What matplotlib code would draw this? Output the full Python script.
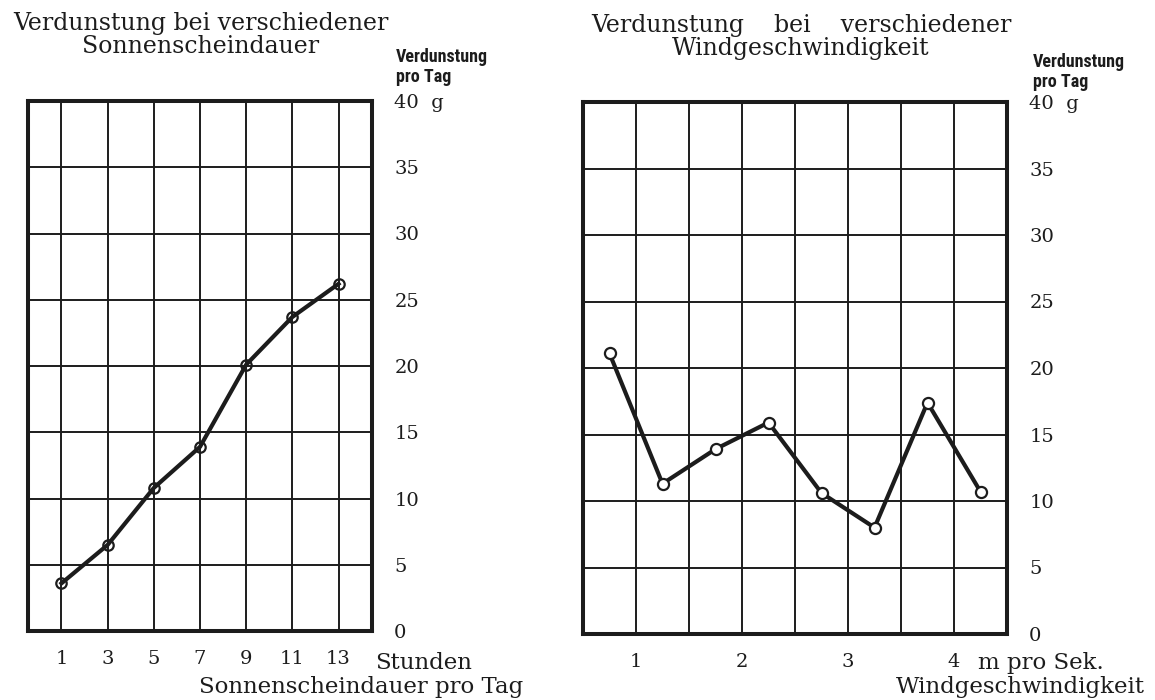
import numpy as np
import matplotlib
matplotlib.use('Agg')
import matplotlib.pyplot as plt

plt.rcParams.update({'font.family': 'DejaVu Serif', 'font.size': 14})

# Sonnenscheindauer (Stunden) vs Verdunstung (g pro Tag)
sonne_h = [1, 3, 5, 7, 9, 11, 13]
sonne_g = [3.6, 6.5, 10.8, 13.9, 20.1, 23.7, 26.2]

# Windgeschwindigkeit (m pro Sek.) vs Verdunstung (g pro Tag)
wind_ms = [0.75, 1.25, 1.75, 2.25, 2.75, 3.25, 3.75, 4.25]
wind_g = [21.1, 11.3, 13.9, 15.9, 10.6, 8.0, 17.4, 10.7]

y_ticks = [0, 5, 10, 15, 20, 25, 30, 35, 40]
y_labels = ['0', '5', '10', '15', '20', '25', '30', '35', '40  g']
wind_ticks = [1, 2, 3, 4]
wind_minor = [1.5, 2.5, 3.5]

ink = '#1c1c1c'
W, H = 1155, 700
fig = plt.figure(figsize=(W / 100, H / 100), dpi=100)

def px_axes(l, t, r, b):
    return fig.add_axes([l / W, 1 - b / H, (r - l) / W, (b - t) / H])

def style(ax):
    for s in ax.spines.values():
        s.set_linewidth(2.9)
        s.set_color(ink)
    ax.set_ylim(0, 40)
    ax.set_yticks(y_ticks)
    ax.set_yticklabels(y_labels)
    ax.yaxis.tick_right()
    ax.tick_params(axis='both', which='both', length=0, colors=ink, labelsize=14)
    ax.tick_params(axis='y', pad=16)
    ax.tick_params(axis='x', pad=14)
    ax.grid(True, which='both', color=ink, linewidth=1.4)

# left chart
ax1 = px_axes(28, 101, 372, 631)
style(ax1)
ax1.set_xlim(-0.45, 14.45)
ax1.set_xticks(sonne_h)
ax1.set_axisbelow(False)
ax1.plot(sonne_h, sonne_g, '-o', color=ink, lw=3, ms=7.5, mfc='none', mec=ink, mew=1.6,
         zorder=2)

# right chart
ax2 = px_axes(583, 102, 1007, 634)
style(ax2)
ax2.set_xlim(0.5, 4.5)
ax2.set_xticks(wind_ticks)
ax2.set_xticks(wind_minor, minor=True)
ax2.set_axisbelow(True)
ax2.plot(wind_ms, wind_g, '-o', color=ink, lw=3, ms=8, mfc='white', mec=ink, mew=1.6,
         zorder=3)

def ftext(x, y, s, **kw):
    fig.text(x / W, 1 - y / H, s, color=ink, **kw)

# titles
ftext(201, 35, 'Verdunstung bei verschiedener\nSonnenscheindauer', ha='center', va='center',
      fontsize=17, linespacing=0.95)
ftext(801, 37, 'Verdunstung    bei    verschiedener\nWindgeschwindigkeit', ha='center',
      va='center', fontsize=17, linespacing=0.95)

# y axis headings (bold, narrow)
narrow = dict(family=['Roboto Condensed', 'Liberation Sans Narrow', 'DejaVu Sans'],
              fontweight='bold', fontstretch='condensed', fontsize=13, linespacing=1.15)
ftext(396, 67, 'Verdunstung\npro Tag', ha='left', va='center', **narrow)
ftext(1033, 72, 'Verdunstung\npro Tag', ha='left', va='center', **narrow)

# x axis units and headings
ftext(375, 663, 'Stunden', ha='left', va='center', fontsize=16.5)
ftext(523, 687, 'Sonnenscheindauer pro Tag', ha='right', va='center', fontsize=16.5)
ftext(978, 663, 'm pro Sek.', ha='left', va='center', fontsize=16.5)
ftext(1145, 687, 'Windgeschwindigkeit', ha='right', va='center', fontsize=16.5)

fig.savefig('out.png', dpi=100, facecolor='white')
